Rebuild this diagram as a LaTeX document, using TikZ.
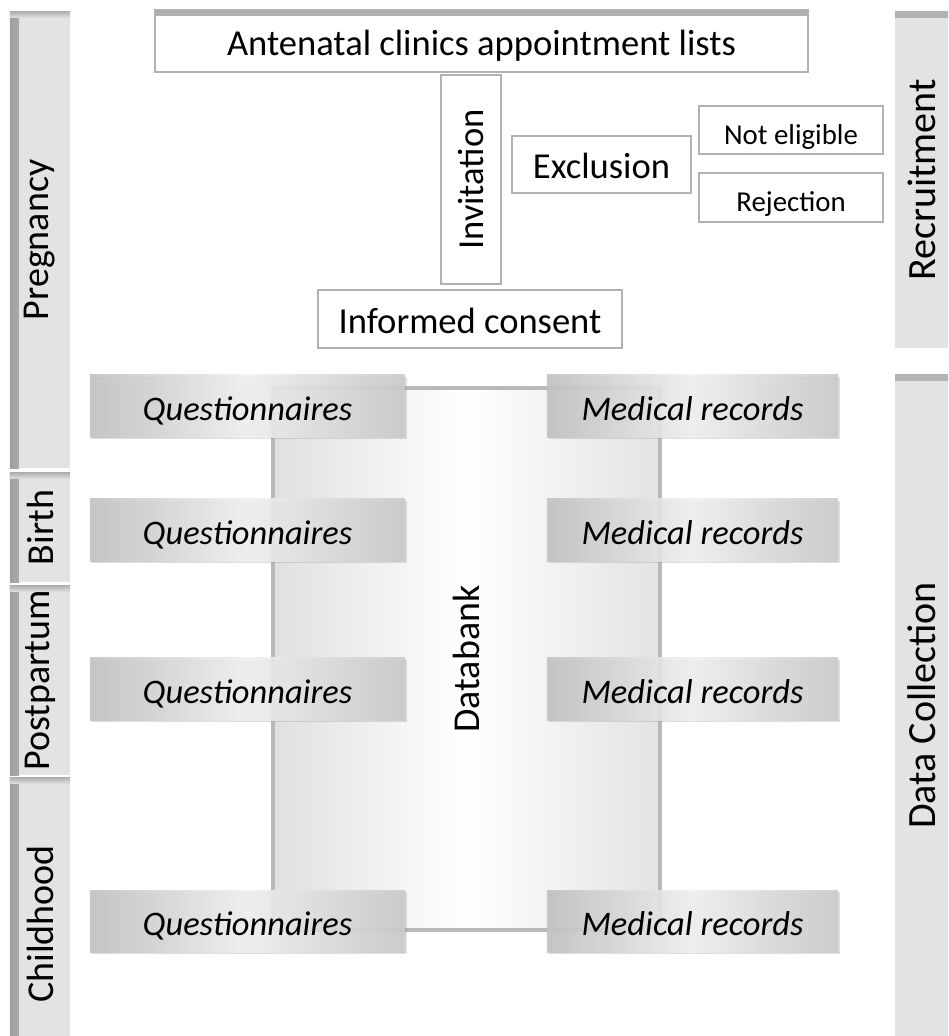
\documentclass[tikz,border=0pt]{standalone}
\usepackage{fontspec}
\setmainfont{Carlito}
\usepackage{graphicx}
\usetikzlibrary{positioning,shadows}

\begin{document}
\begin{tikzpicture}[x=0.025cm,y=-0.025cm,
    bigfont/.style={font=\fontsize{26}{30}\selectfont},
    level/.style={text height=23pt,text depth=3pt},
    tallbox/.style={draw=gray!60,line width=1pt,fill=white,inner sep=0pt,bigfont},
    whitebox/.style={tallbox,level},
    smallbox/.style={whitebox,font=\fontsize{20.5}{24}\selectfont},
    databox/.style={inner sep=0pt,minimum height=1.55cm,level,
        left color=gray!48,right color=gray!42,middle color=gray!12,
        fill opacity=0.9,text opacity=1,
        drop shadow={opacity=0.25,shadow xshift=0.06cm,shadow yshift=-0.06cm},
        font=\fontsize{24.5}{28}\selectfont\itshape},
    bank/.style={draw=gray!55,line width=2.8pt,inner sep=0pt,
        left color=gray!24,right color=gray!22,middle color=white,
        font=\fontsize{27}{30}\selectfont},
    phase/.style={fill=gray!22,inner sep=0pt,minimum width=1.5cm,
        font=\fontsize{27}{30}\selectfont,
        path picture={
            \shade[left color=gray!75,right color=gray!22]
                (path picture bounding box.south west) rectangle ([xshift=0.22cm]path picture bounding box.north west);
            \shade[top color=gray!60,bottom color=gray!22]
                (path picture bounding box.north west) rectangle ([yshift=-0.15cm]path picture bounding box.north east);}},
    stage/.style={fill=gray!22,inner sep=0pt,minimum width=1.325cm,
        font=\fontsize{28.5}{32}\selectfont,
        path picture={
            \shade[top color=gray!60,bottom color=gray!22]
                (path picture bounding box.north west) rectangle ([yshift=-0.15cm]path picture bounding box.north east);}}
]
\useasboundingbox (0,0) rectangle (948,1036);

% recruitment
\node[whitebox,minimum width=16.325cm,minimum height=1.55cm,
    path picture={\shade[top color=gray!65,bottom color=white]
        (path picture bounding box.north west) rectangle ([yshift=-0.15cm]path picture bounding box.north east);}]
    (lists) at (481.5,41) {Antenatal clinics appointment lists};
\node[tallbox,minimum width=1.5cm,minimum height=5.225cm] (invite) at (471,179.5) {\rotatebox{90}{Invitation}};
\node[whitebox,minimum width=4.475cm,minimum height=1.425cm] (exclusion) at (601.5,164.5) {Exclusion};
\node[smallbox,minimum width=4.6cm,minimum height=1.2cm] (noteligible) at (791,130) {Not eligible};
\node[smallbox,minimum width=4.6cm,minimum height=1.225cm] (rejection) at (791,197.5) {Rejection};
\node[whitebox,minimum width=7.6cm,minimum height=1.45cm] (consent) at (470,319) {Informed consent};

% data collection
\node[bank,minimum width=9.675cm,minimum height=13.55cm] (databank) at (466.5,659) {\rotatebox{90}{Databank}};
\foreach \y [count=\i] in {406,530,689,921}
{
    \node[databox,minimum width=7.875cm] (quest\i) at (247.5,\y) {Questionnaires};
    \node[databox,minimum width=7.275cm] (med\i) at (692.5,\y) {Medical records};
}

% phases
\node[phase,minimum height=11.4cm] (pregnancy) at (40,240) {\rotatebox{90}{Pregnancy}};
\node[phase,minimum height=2.725cm] (birth) at (40,527.5) {\rotatebox{90}{Birth}};
\node[phase,minimum height=4.725cm] (postpartum) at (40,680.5) {\rotatebox{90}{Postpartum}};
\node[phase,minimum height=7.3cm] (childhood) at (40,924) {\rotatebox{90}{Childhood}};
\node[stage,minimum height=8.4cm] (recruit) at (921.5,180) {\rotatebox{90}{Recruitment}};
\node[stage,minimum height=16.525cm] (collect) at (921.5,705.5) {\rotatebox{90}{Data Collection}};
\end{tikzpicture}
\end{document}
